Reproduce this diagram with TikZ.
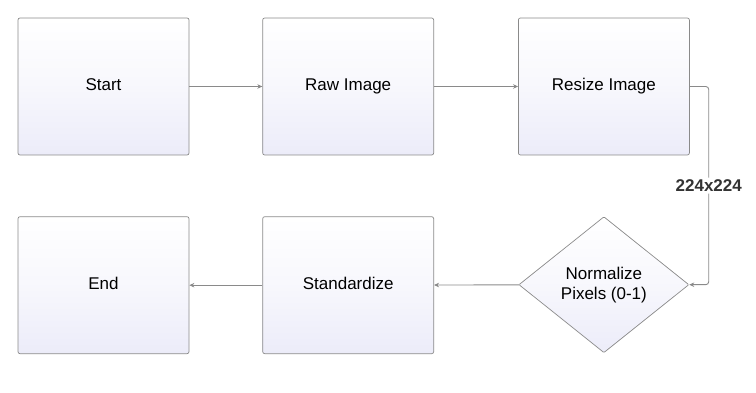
\documentclass[tikz,border=0pt]{standalone}
\usepackage{fontspec}
\setmainfont{Liberation Sans}
\usetikzlibrary{arrows.meta, positioning, shapes.geometric}
\definecolor{pfLine}{HTML}{8A8A8A}
\definecolor{pfTip}{HTML}{3A3A3A}
\definecolor{pfBottom}{HTML}{ECECF9}
\tikzset{
  pfshape/.style={
    draw=pfLine, top color=white, bottom color=pfBottom, middle color=white!60!pfBottom,
    font=\fontsize{17}{20}\selectfont, align=center, line width=0.7pt
  },
  stepbox/.style={pfshape, rounded corners=2pt, minimum width=171pt, minimum height=137pt,
    text height=12.5pt, text depth=3.5pt},
  decide/.style={pfshape, diamond, rounded corners=1pt, inner sep=0pt,
    minimum width=170pt, minimum height=136pt},
  flow/.style={-{Stealth[length=5pt, width=4.5pt, fill=pfTip]}, pfLine, line width=0.9pt},
  tag/.style={font=\fontsize{17}{20}\selectfont\bfseries, text=black!80, fill=white, inner sep=2pt}
}
\begin{document}
\begin{tikzpicture}
  \useasboundingbox (0,0) rectangle (756pt,393pt);
  % top row
  \node[stepbox] (start) at (103.5pt,306.5pt) {Start};
  \node[stepbox, right=73pt of start] (raw) {Raw Image};
  \node[stepbox, right=84pt of raw] (resize) {Resize Image};
  % bottom row
  \node[decide, below=61pt of resize] (norm) {Normalize\\Pixels (0-1)};
  \node[stepbox, below=61pt of raw] (std) {Standardize};
  \node[stepbox, below=61pt of start] (end) {End};
  % connectors
  \draw[flow] (start) -- (raw);
  \draw[flow] (raw) -- (resize);
  \draw[flow, rounded corners=3pt] (resize.east) -- ++(19pt,0) |- node[tag, pos=0.25] {224x224} (norm.east);
  \draw[flow] (norm) -- (std);
  \draw[flow] (std) -- (end);
\end{tikzpicture}
\end{document}
